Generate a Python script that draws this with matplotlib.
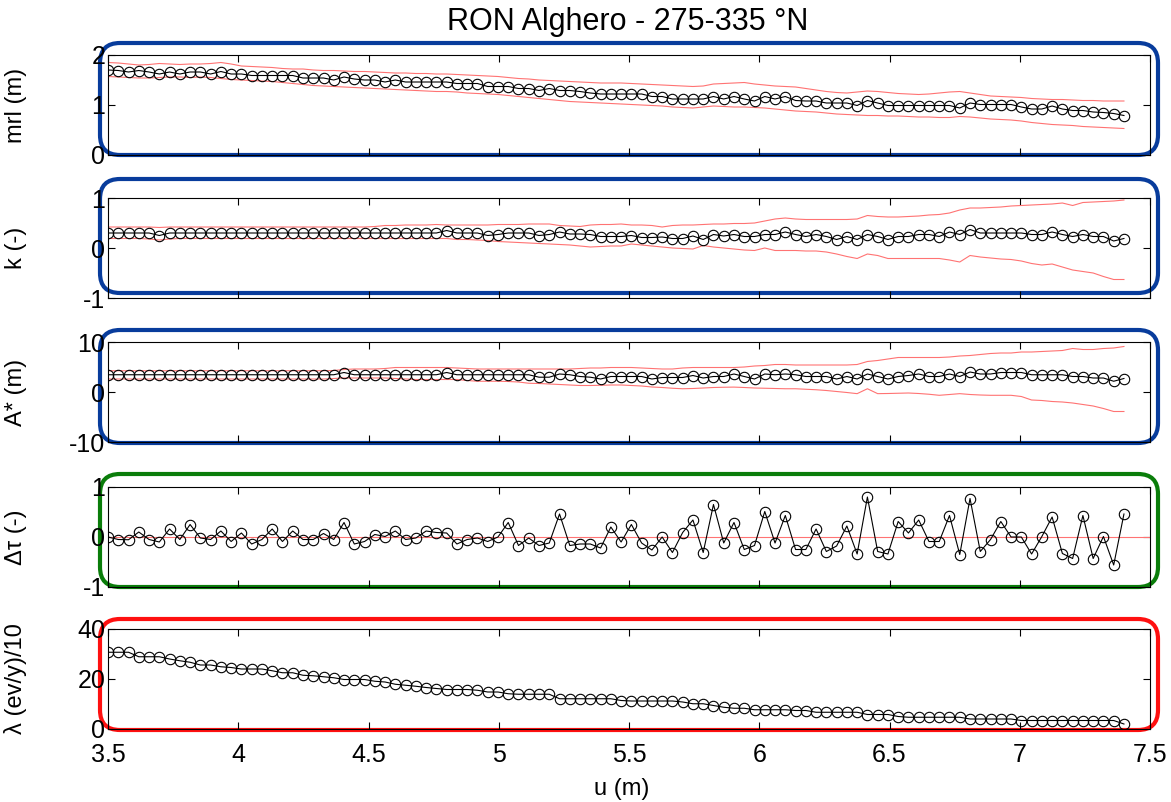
import numpy as np
import matplotlib
matplotlib.use("Agg")
import matplotlib.pyplot as plt
from matplotlib.patches import FancyBboxPatch

plt.rcParams['font.family'] = ['Liberation Sans', 'DejaVu Sans']
plt.rcParams['axes.unicode_minus'] = False

# threshold grid (100 thresholds from 3.5 to 7.4 m)
u = np.linspace(3.5, 7.4, 100)

mrl = [1.70, 1.69, 1.66, 1.69, 1.66, 1.62, 1.66, 1.62, 1.66, 1.66,
       1.62, 1.67, 1.62, 1.62, 1.59, 1.59, 1.59, 1.59, 1.59, 1.54,
       1.54, 1.54, 1.50, 1.56, 1.52, 1.50, 1.50, 1.46, 1.50, 1.46,
       1.46, 1.46, 1.46, 1.46, 1.43, 1.43, 1.43, 1.37, 1.37, 1.37,
       1.33, 1.33, 1.29, 1.33, 1.29, 1.29, 1.27, 1.24, 1.22, 1.22,
       1.22, 1.22, 1.22, 1.17, 1.17, 1.12, 1.12, 1.12, 1.12, 1.17,
       1.12, 1.17, 1.12, 1.08, 1.17, 1.12, 1.17, 1.09, 1.08, 1.08,
       1.04, 1.04, 1.04, 0.99, 1.09, 1.04, 0.99, 0.99, 0.99, 0.99,
       0.99, 0.99, 0.99, 0.94, 1.04, 1.01, 1.01, 1.01, 1.01, 0.96,
       0.92, 0.92, 0.98, 0.92, 0.89, 0.89, 0.86, 0.85, 0.83, 0.79]
mrl_hi = [1.85, 1.84, 1.82, 1.80, 1.81, 1.83, 1.82, 1.81, 1.82, 1.82,
          1.83, 1.85, 1.82, 1.78, 1.77, 1.76, 1.75, 1.73, 1.72, 1.72,
          1.70, 1.69, 1.69, 1.68, 1.67, 1.67, 1.66, 1.65, 1.64, 1.64,
          1.63, 1.63, 1.62, 1.62, 1.61, 1.60, 1.59, 1.58, 1.57, 1.55,
          1.53, 1.52, 1.50, 1.49, 1.48, 1.47, 1.46, 1.45, 1.44, 1.44,
          1.44, 1.43, 1.42, 1.41, 1.40, 1.39, 1.38, 1.37, 1.38, 1.42,
          1.43, 1.44, 1.45, 1.42, 1.40, 1.38, 1.37, 1.36, 1.33, 1.30,
          1.27, 1.25, 1.24, 1.26, 1.28, 1.27, 1.25, 1.23, 1.22, 1.21,
          1.22, 1.24, 1.26, 1.27, 1.24, 1.21, 1.18, 1.17, 1.16, 1.15,
          1.13, 1.12, 1.11, 1.11, 1.10, 1.09, 1.09, 1.08, 1.08, 1.08]
mrl_lo = [1.57, 1.56, 1.55, 1.54, 1.54, 1.55, 1.56, 1.56, 1.55, 1.56,
          1.55, 1.53, 1.51, 1.50, 1.49, 1.48, 1.47, 1.45, 1.43, 1.41,
          1.39, 1.38, 1.37, 1.36, 1.35, 1.34, 1.33, 1.32, 1.31, 1.30,
          1.29, 1.28, 1.27, 1.27, 1.26, 1.24, 1.23, 1.22, 1.21, 1.19,
          1.17, 1.15, 1.13, 1.11, 1.09, 1.07, 1.06, 1.05, 1.04, 1.03,
          1.02, 1.01, 1.00, 0.99, 0.98, 0.96, 0.95, 0.94, 0.96, 0.98,
          0.97, 0.96, 0.96, 0.95, 0.94, 0.92, 0.90, 0.88, 0.87, 0.86,
          0.84, 0.82, 0.81, 0.80, 0.79, 0.79, 0.78, 0.78, 0.77, 0.76,
          0.76, 0.75, 0.75, 0.77, 0.76, 0.74, 0.72, 0.71, 0.70, 0.68,
          0.65, 0.63, 0.61, 0.60, 0.59, 0.57, 0.56, 0.55, 0.54, 0.53]

k = [0.30, 0.30, 0.30, 0.30, 0.30, 0.25, 0.30, 0.30, 0.30, 0.30,
     0.30, 0.30, 0.30, 0.30, 0.30, 0.30, 0.30, 0.30, 0.30, 0.30,
     0.30, 0.30, 0.30, 0.30, 0.30, 0.30, 0.30, 0.30, 0.30, 0.30,
     0.30, 0.30, 0.30, 0.35, 0.30, 0.30, 0.30, 0.25, 0.27, 0.30,
     0.30, 0.30, 0.25, 0.27, 0.32, 0.28, 0.28, 0.27, 0.23, 0.23,
     0.23, 0.25, 0.21, 0.21, 0.22, 0.19, 0.19, 0.24, 0.17, 0.27,
     0.24, 0.27, 0.23, 0.23, 0.27, 0.27, 0.32, 0.27, 0.23, 0.27,
     0.23, 0.17, 0.23, 0.17, 0.27, 0.23, 0.17, 0.23, 0.23, 0.27,
     0.27, 0.23, 0.32, 0.27, 0.37, 0.30, 0.30, 0.30, 0.30, 0.30,
     0.27, 0.27, 0.32, 0.27, 0.23, 0.27, 0.23, 0.23, 0.14, 0.19]
k_hi = [0.42, 0.42, 0.42, 0.42, 0.42, 0.41, 0.42, 0.42, 0.42, 0.42,
        0.42, 0.42, 0.42, 0.42, 0.42, 0.42, 0.42, 0.42, 0.42, 0.42,
        0.42, 0.42, 0.42, 0.42, 0.42, 0.42, 0.43, 0.45, 0.45, 0.46,
        0.46, 0.46, 0.47, 0.46, 0.46, 0.46, 0.46, 0.46, 0.47, 0.47,
        0.47, 0.48, 0.48, 0.48, 0.45, 0.44, 0.43, 0.46, 0.47, 0.47,
        0.48, 0.46, 0.46, 0.45, 0.42, 0.45, 0.46, 0.46, 0.47, 0.48,
        0.48, 0.49, 0.49, 0.50, 0.54, 0.58, 0.60, 0.58, 0.57, 0.57,
        0.57, 0.57, 0.57, 0.58, 0.65, 0.63, 0.62, 0.62, 0.63, 0.64,
        0.66, 0.67, 0.70, 0.76, 0.80, 0.80, 0.81, 0.82, 0.84, 0.85,
        0.86, 0.87, 0.88, 0.90, 0.85, 0.91, 0.92, 0.93, 0.94, 0.96]
k_lo = [0.19, 0.19, 0.19, 0.19, 0.18, 0.16, 0.18, 0.19, 0.19, 0.19,
        0.19, 0.19, 0.19, 0.19, 0.19, 0.19, 0.19, 0.19, 0.19, 0.19,
        0.19, 0.19, 0.19, 0.19, 0.19, 0.19, 0.19, 0.19, 0.19, 0.19,
        0.19, 0.19, 0.19, 0.19, 0.17, 0.17, 0.16, 0.15, 0.13, 0.12,
        0.11, 0.10, 0.09, 0.08, 0.07, 0.06, 0.04, 0.02, 0.03, 0.04,
        0.04, 0.08, 0.06, 0.04, 0.02, 0.00, -0.01, -0.02, 0.05, 0.02,
        0.00, -0.02, -0.04, -0.05, 0.00, -0.05, -0.05, -0.05, -0.06, -0.06,
        -0.08, -0.12, -0.17, -0.21, -0.12, -0.15, -0.21, -0.21, -0.21, -0.21,
        -0.21, -0.21, -0.24, -0.28, -0.15, -0.18, -0.20, -0.22, -0.23, -0.26,
        -0.31, -0.34, -0.32, -0.38, -0.44, -0.47, -0.50, -0.57, -0.63, -0.63]

a_star = [3.45, 3.45, 3.45, 3.45, 3.45, 3.45, 3.45, 3.45, 3.45, 3.45,
          3.45, 3.45, 3.45, 3.45, 3.45, 3.45, 3.45, 3.45, 3.45, 3.45,
          3.45, 3.45, 3.45, 3.90, 3.45, 3.45, 3.45, 3.45, 3.45, 3.45,
          3.45, 3.45, 3.45, 3.90, 3.45, 3.45, 3.45, 3.45, 3.45, 3.45,
          3.45, 3.45, 2.96, 2.96, 3.60, 3.45, 3.10, 2.96, 2.60, 3.10,
          3.10, 3.10, 3.10, 2.60, 2.90, 2.90, 2.90, 3.30, 2.80, 3.10,
          3.10, 3.60, 3.10, 2.60, 3.60, 3.45, 3.60, 3.45, 3.10, 3.10,
          3.10, 2.60, 3.10, 2.60, 3.60, 3.10, 2.60, 3.10, 3.30, 3.60,
          3.10, 3.10, 3.60, 3.10, 4.00, 3.60, 3.60, 3.90, 3.90, 3.90,
          3.45, 3.45, 3.45, 3.45, 3.10, 3.10, 2.80, 2.80, 2.15, 2.70]
a_hi = [4.25, 4.25, 4.25, 4.25, 4.25, 4.25, 4.25, 4.25, 4.25, 4.25,
        4.25, 4.25, 4.25, 4.25, 4.25, 4.25, 4.25, 4.25, 4.25, 4.25,
        4.25, 4.25, 4.30, 4.50, 4.60, 4.60, 4.60, 4.70, 4.90, 4.90,
        4.90, 4.90, 4.90, 4.90, 4.80, 4.70, 4.60, 4.60, 4.60, 4.60,
        4.60, 4.60, 4.60, 4.60, 4.60, 4.60, 4.70, 4.80, 4.80, 4.90,
        4.90, 4.90, 4.80, 4.70, 4.60, 4.60, 4.80, 4.90, 4.90, 4.90,
        4.90, 4.90, 5.00, 5.20, 5.30, 5.50, 5.50, 5.40, 5.40, 5.40,
        5.40, 5.40, 5.40, 5.50, 6.10, 6.30, 6.60, 6.90, 6.90, 6.90,
        6.90, 6.90, 7.00, 7.20, 7.30, 7.50, 7.70, 7.80, 7.80, 8.00,
        8.00, 8.10, 8.20, 8.30, 8.70, 8.50, 8.50, 8.70, 8.80, 9.10]
a_lo = [2.60, 2.60, 2.60, 2.60, 2.60, 2.60, 2.60, 2.60, 2.60, 2.60,
        2.60, 2.60, 2.60, 2.60, 2.60, 2.60, 2.60, 2.60, 2.60, 2.60,
        2.60, 2.60, 2.70, 2.80, 2.80, 2.80, 2.80, 2.80, 2.70, 2.60,
        2.50, 2.50, 2.50, 2.50, 2.50, 2.30, 2.15, 2.15, 2.15, 2.10,
        2.00, 1.75, 1.70, 1.60, 1.50, 1.40, 1.30, 1.30, 1.35, 1.40,
        1.40, 1.30, 1.20, 1.00, 0.90, 0.75, 0.65, 0.70, 0.80, 0.90,
        0.95, 0.98, 0.90, 0.80, 0.75, 0.70, 0.65, 0.65, 0.55, 0.45,
        0.30, 0.10, -0.10, -0.33, 0.65, -0.33, -0.30, -0.25, -0.20, -0.30,
        -0.45, -0.66, -0.50, -0.33, -0.50, -0.60, -0.66, -0.66, -0.66, -0.90,
        -1.60, -1.70, -1.90, -2.00, -2.20, -2.50, -2.80, -3.30, -3.90, -3.90]

d_tau = [0.00, -0.05, -0.055, 0.10, -0.05, -0.10, 0.16, -0.05, 0.25, -0.02,
         -0.05, 0.12, -0.09, 0.08, -0.14, -0.05, 0.16, -0.09, 0.12, -0.05,
         -0.05, 0.07, -0.05, 0.29, -0.14, -0.09, 0.05, 0.01, 0.12, -0.05,
         -0.02, 0.12, 0.09, 0.08, -0.14, -0.05, -0.02, -0.09, 0.00, 0.29,
         -0.17, -0.02, -0.17, -0.12, 0.46, -0.17, -0.14, -0.14, -0.22, 0.20,
         -0.10, 0.25, -0.12, -0.26, 0.00, -0.31, 0.09, 0.34, -0.31, 0.65,
         -0.12, 0.29, -0.25, -0.17, 0.51, -0.12, 0.43, -0.25, -0.25, 0.16,
         -0.29, -0.18, 0.22, -0.34, 0.80, -0.29, -0.34, 0.31, 0.08, 0.34,
         -0.09, -0.09, 0.43, -0.35, 0.77, -0.29, -0.05, 0.31, 0.00, 0.00,
         -0.34, 0.01, 0.40, -0.33, -0.43, 0.43, -0.43, 0.01, -0.56, 0.46]

lam = [30.7, 30.7, 30.7, 28.9, 28.9, 28.9, 28.0, 27.3, 26.7, 25.6,
       25.6, 24.9, 24.6, 24.0, 24.0, 24.0, 23.3, 22.5, 22.5, 21.5,
       21.3, 20.9, 20.5, 19.8, 19.8, 19.8, 19.1, 18.8, 17.9, 17.5,
       17.1, 16.6, 16.2, 15.8, 15.8, 15.8, 15.5, 14.8, 14.8, 14.1,
       13.9, 13.9, 13.9, 13.9, 12.1, 12.1, 12.1, 12.1, 12.1, 12.1,
       11.4, 11.2, 11.2, 11.2, 11.2, 11.2, 10.8, 10.1, 10.1, 9.4,
       8.7, 8.3, 8.3, 7.7, 7.7, 7.7, 7.7, 7.4, 7.4, 6.7,
       6.7, 6.7, 6.7, 6.7, 5.8, 5.8, 5.8, 5.0, 4.7, 4.7,
       4.7, 4.7, 4.7, 4.7, 4.0, 4.0, 4.0, 4.0, 4.0, 3.4,
       3.4, 3.4, 3.4, 3.4, 3.4, 3.4, 3.4, 3.4, 3.4, 2.0]

x_ticks = [3.5, 4, 4.5, 5, 5.5, 6, 6.5, 7, 7.5]
x_tick_labels = ["3.5", "4", "4.5", "5", "5.5", "6", "6.5", "7", "7.5"]

W, H = 1171, 802
fig = plt.figure(figsize=(W / 100, H / 100), dpi=100)

# rounded frames, drawn first (behind the panels) in pixel coordinates
over = fig.add_axes([0, 0, 1, 1])
over.set_xlim(0, W)
over.set_ylim(H, 0)
over.axis("off")
over.patch.set_alpha(0)
frames = [(43, 155, "#083c9c"), (179, 293, "#083c9c"), (330, 443, "#083c9c"),
          (474, 587, "#0a7d0a"), (619, 730, "#ff1010")]
for y0, y1, col in frames:
    over.add_patch(FancyBboxPatch((100, y0), 1058, y1 - y0,
                                  boxstyle="round,pad=0,rounding_size=20",
                                  fill=False, ec=col, lw=3))

# (values, lower, upper, ylabel, ylim, yticks)
panels = [
    (mrl, mrl_lo, mrl_hi, "mrl (m)", (0, 2), [0, 1, 2]),
    (k, k_lo, k_hi, "k (-)", (-1, 1), [-1, 0, 1]),
    (a_star, a_lo, a_hi, "A* (m)", (-10, 10), [-10, 0, 10]),
    (d_tau, None, None, "\u0394\u03c4 (-)", (-1, 1), [-1, 0, 1]),
    (lam, None, None, "\u03bb (ev/y)/10", (0, 40), [0, 20, 40]),
]
tops = [55, 198, 342, 487, 629]
ax_h = 100
band_col = (1.0, 0.45, 0.45)

for i, (vals, lo, hi, ylab, ylim, yt) in enumerate(panels):
    top = tops[i]
    ax = fig.add_axes([108 / W, 1 - (top + ax_h) / H, 1042 / W, ax_h / H])
    ax.set_facecolor("none")
    if lo is not None:
        ax.plot(u, hi, color=band_col, lw=0.8)
        ax.plot(u, lo, color=band_col, lw=0.8)
    if i == 3:
        ax.axhline(0, color=band_col, lw=0.8)
    ax.plot(u, vals, color="black", lw=0.8, marker="o", ms=7.5,
            mfc="none", mec="black", mew=0.8)
    ax.set_xlim(3.5, 7.5)
    ax.set_ylim(*ylim)
    ax.set_yticks(yt)
    ax.set_xticks(x_ticks)
    ax.tick_params(direction="in", top=True, right=True, length=5,
                   width=0.8, labelsize=18, pad=2)
    ax.tick_params(axis="x", pad=10)
    if i == 4:
        ax.set_xticklabels(x_tick_labels)
    else:
        ax.set_xticklabels([])
    ax.set_ylabel(ylab, fontsize=17)
    ax.yaxis.set_label_coords(-0.078, 0.5)
    for sp in ax.spines.values():
        sp.set_linewidth(0.8)

fig.text(628 / W, 1 - 22 / H, "RON Alghero - 275-335 \u00b0N",
         ha="center", va="center", fontsize=22)
fig.text(622 / W, 1 - 789 / H, "u (m)", ha="center", va="center", fontsize=17)

plt.savefig("out.png", dpi=100)
plt.close(fig)
